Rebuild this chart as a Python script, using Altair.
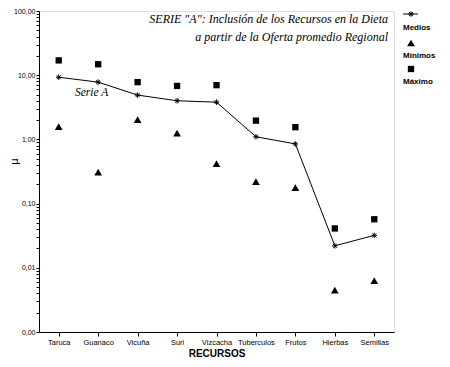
import altair as alt
import pandas as pd

recursos = ["Taruca", "Guanaco", "Vicuña", "Suri", "Vizcacha", "Tuberculos", "Frutos", "Hierbas", "Semillas"]
medios = [9.3, 7.8, 4.9, 4.0, 3.8, 1.1, 0.85, 0.022, 0.032]
maximo = [17.0, 14.8, 7.8, 6.8, 7.0, 1.96, 1.55, 0.041, 0.057]
minimos = [1.58, 0.31, 2.03, 1.25, 0.42, 0.22, 0.177, 0.0045, 0.0063]

major_ticks = [0.001, 0.01, 0.1, 1, 10, 100]
minor_ticks = [round(m * d, 6) for d in [0.001, 0.01, 0.1, 1, 10] for m in range(2, 10)]
all_ticks = sorted(major_ticks + minor_ticks)

df_med = pd.DataFrame({"recurso": recursos, "valor": medios})
df_max = pd.DataFrame({"recurso": recursos, "valor": maximo})
df_min = pd.DataFrame({"recurso": recursos, "valor": minimos})

W, H = 355, 321

xenc = alt.X("recurso:N", sort=recursos,
             scale=alt.Scale(type="point", padding=0.5),
             axis=alt.Axis(title="RECURSOS", labelAngle=0, labelFont="Liberation Sans",
                           labelFontSize=7.5, titleFont="Liberation Sans", titleFontSize=10,
                           titleFontWeight="bold", tickSize=4, tickColor="black", tickWidth=1,
                           domainColor="black", domainWidth=1, labelColor="black", titleColor="black",
                           labelPadding=2, titlePadding=3, grid=False))

major_test = "indexof(" + str(major_ticks) + ", datum.value) >= 0"
yenc = alt.Y("valor:Q",
             scale=alt.Scale(type="log", domain=[0.001, 100], nice=False),
             axis=alt.Axis(title="µ", values=all_ticks, grid=False,
                           labelExpr=major_test + " ? replace(format(datum.value, '.2f'), '.', ',') : ''",
                           labelFont="Liberation Sans", labelFontSize=7, labelColor="black",
                           tickSize=3, tickWidth=1, tickColor="black",
                           domainColor="black", domainWidth=1, labelPadding=1,
                           titleFont="DejaVu Sans", titleFontSize=10, titleFontWeight="normal",
                           titleColor="black", titleX=-20, titleY=150, labelOverlap=False,
                           labelBound=False, labelFlush=False))

asterisk = "M-1,0L1,0M0,-1L0,1M-0.7,-0.7L0.7,0.7M-0.7,0.7L0.7,-0.7"

line = alt.Chart(df_med).mark_line(color="black", strokeWidth=1).encode(x=xenc, y=yenc)
stars = alt.Chart(df_med).mark_point(shape=asterisk, size=30, color="black",
                                     filled=False, strokeWidth=1, opacity=1).encode(x=xenc, y=yenc)
squares = alt.Chart(df_max).mark_point(shape="square", size=40, color="black",
                                       filled=True, opacity=1).encode(x=xenc, y=yenc)
triangles = alt.Chart(df_min).mark_point(shape="triangle-up", size=60, color="black",
                                         filled=True, opacity=1).encode(x=xenc, y=yenc)

tfont = "Liberation Serif"
title1 = alt.Chart(pd.DataFrame({"t": ['SERIE "A": Inclusión de los Recursos en la  Dieta']})).mark_text(
    font=tfont, fontSize=12, fontStyle="italic", align="right", baseline="middle", color="black"
).encode(text="t:N", x=alt.value(349), y=alt.value(8))
title2 = alt.Chart(pd.DataFrame({"t": ["a partir de la Oferta  promedio Regional"]})).mark_text(
    font=tfont, fontSize=12, fontStyle="italic", align="right", baseline="middle", color="black"
).encode(text="t:N", x=alt.value(349), y=alt.value(26))
serie = alt.Chart(pd.DataFrame({"t": ["Serie A"]})).mark_text(
    font=tfont, fontSize=11.5, fontStyle="italic", align="left", baseline="middle", color="black"
).encode(text="t:N", x=alt.value(36), y=alt.value(82))

# legend (outside the plot area)
leg_line = alt.Chart(pd.DataFrame({"a": [0]})).mark_rule(color="black", strokeWidth=1).encode(
    x=alt.value(364), x2=alt.value(379), y=alt.value(3))
leg_star = alt.Chart(pd.DataFrame({"a": [0]})).mark_point(shape=asterisk, size=30, color="black",
                                                         filled=False, strokeWidth=1, opacity=1).encode(
    x=alt.value(372), y=alt.value(3))
leg_tri = alt.Chart(pd.DataFrame({"a": [0]})).mark_point(shape="triangle-up", size=60, color="black",
                                                        filled=True, opacity=1).encode(
    x=alt.value(372), y=alt.value(32))
leg_sq = alt.Chart(pd.DataFrame({"a": [0]})).mark_point(shape="square", size=40, color="black",
                                                       filled=True, opacity=1).encode(
    x=alt.value(372), y=alt.value(58))
leg_lab = alt.Chart(pd.DataFrame({"t": ["Medios", "Mínimos", "Máximo"], "yy": [17, 45, 71]})).mark_text(
    font="Liberation Sans", fontSize=8, fontWeight="bold", align="left", baseline="middle", color="black"
).encode(text="t:N", x=alt.value(364), y=alt.Y("yy:Q", scale=None))

chart = alt.layer(line, stars, squares, triangles, title1, title2, serie,
                  leg_line, leg_star, leg_tri, leg_sq, leg_lab).properties(
    width=W, height=H,
    autosize=alt.AutoSizeParams(type="none"),
    padding={"left": 31, "top": 3, "right": 48, "bottom": 35},
).configure_view(stroke="#888888", strokeWidth=1).configure(background="white")

chart.save("out.html", embed_options={"renderer": "svg", "actions": False})
